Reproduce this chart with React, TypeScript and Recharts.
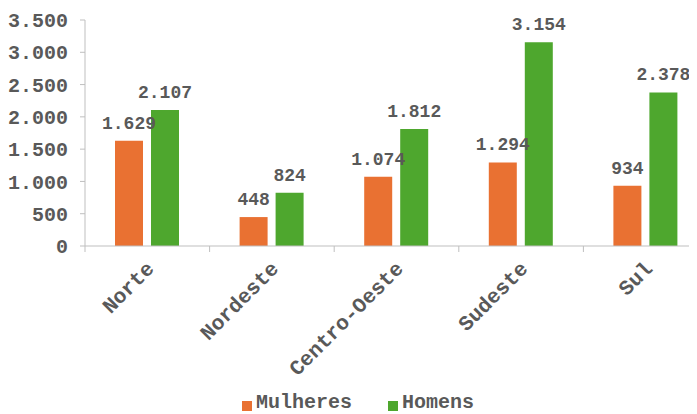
import { BarChart, Bar, XAxis, YAxis, Legend, LabelList } from 'recharts';

const regioes = ['Norte', 'Nordeste', 'Centro-Oeste', 'Sudeste', 'Sul'];
const mulheres = [1629, 448, 1074, 1294, 934];
const homens = [2107, 824, 1812, 3154, 2378];
const yTicks = [0, 500, 1000, 1500, 2000, 2500, 3000, 3500];
const series = [
  { key: 'Mulheres', color: '#E97132' },
  { key: 'Homens', color: '#4EA72E' },
];

const FONT = '"Liberation Mono", "DejaVu Sans Mono", monospace';
const GREY_TEXT = '#595959';
const GREY_LINE = '#bfbfbf';

const fmt = (v: any) => Number(v).toLocaleString('pt-BR');

const data = regioes.map((r, i) => ({ regiao: r, Mulheres: mulheres[i], Homens: homens[i] }));

// label rotated -45deg plus a tick mark on the left edge of each band (Excel style)
const CategoryTick = ({ x, y, payload, width, visibleTicksCount }: any) => {
  const half = width && visibleTicksCount ? width / visibleTicksCount / 2 : 0;
  const axisY = y - 8;
  return (
    <g>
      {half > 0 && (
        <line x1={x - half} x2={x - half} y1={axisY} y2={axisY + 6} stroke={GREY_LINE} />
      )}
      <text
        x={x + 4}
        y={y + 12}
        transform={`rotate(-45, ${x + 4}, ${y + 12})`}
        textAnchor="end"
        dominantBaseline="central"
        fill={GREY_TEXT}
        fontFamily={FONT}
        fontWeight="bold"
        fontSize={21}
      >
        {payload.value}
      </text>
    </g>
  );
};

const LegendContent = () => (
  <div style={{ display: 'flex', justifyContent: 'center', gap: 36, fontFamily: FONT, fontWeight: 'bold', fontSize: 20, color: GREY_TEXT }}>
    {series.map((s) => (
      <div key={s.key} style={{ display: 'flex', alignItems: 'center', gap: 4 }}>
        <span style={{ width: 10, height: 10, background: s.color, display: 'inline-block', marginTop: 6 }} />
        <span>{s.key}</span>
      </div>
    ))}
  </div>
);

export default function App() {
  return (
    <div style={{ width: 689, height: 406, overflow: 'hidden' }}>
      <BarChart
        width={700}
        height={406}
        data={data}
        margin={{ top: 12, right: 0, left: 0, bottom: 0 }}
        barCategoryGap={30}
        barGap={8}
      >
        <XAxis
          dataKey="regiao"
          height={145}
          tick={<CategoryTick />}
          tickLine={false}
          axisLine={{ stroke: GREY_LINE }}
          interval={0}
        />
        <YAxis
          width={77}
          domain={[0, 3500]}
          ticks={yTicks}
          tickFormatter={fmt}
          tick={{ fill: GREY_TEXT, fontFamily: FONT, fontWeight: 'bold', fontSize: 20 }}
          axisLine={{ stroke: GREY_LINE }}
          tickLine={{ stroke: GREY_LINE }}
          tickSize={5}
          tickMargin={12}
        />
        <Legend verticalAlign="bottom" content={<LegendContent />} />
        {series.map((s) => (
          <Bar key={s.key} dataKey={s.key} fill={s.color} isAnimationActive={false}>
            <LabelList
              dataKey={s.key}
              position="top"
              offset={12}
              formatter={fmt}
              fill={GREY_TEXT}
              fontFamily={FONT}
              fontWeight="bold"
              fontSize={18}
            />
          </Bar>
        ))}
      </BarChart>
    </div>
  );
}
